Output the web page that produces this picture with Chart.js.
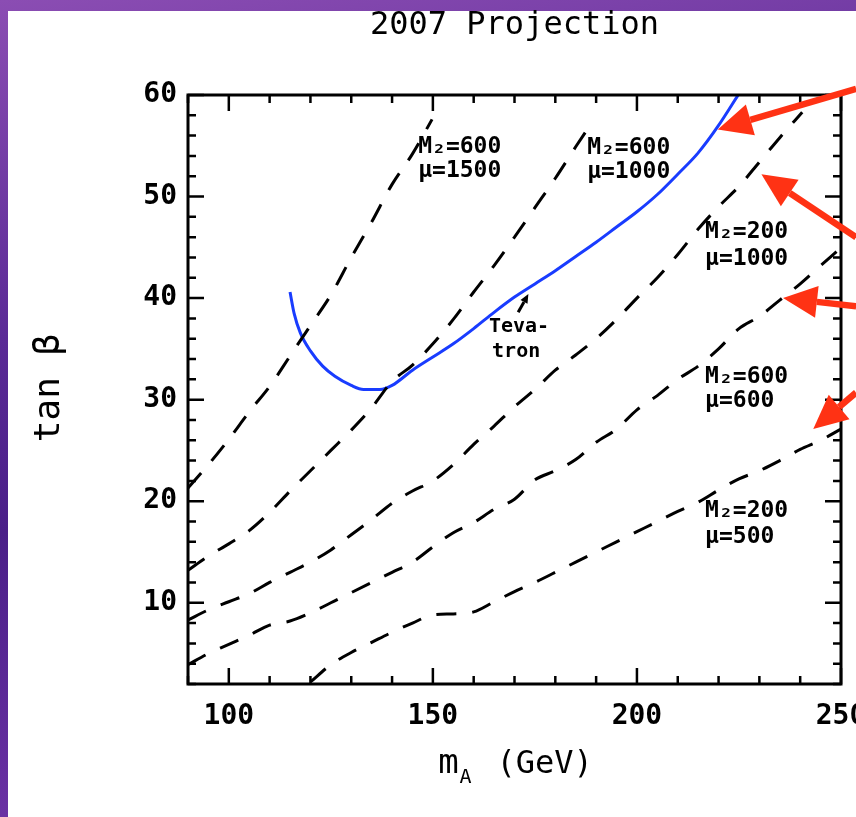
<!DOCTYPE html>
<html>
<head>
<meta charset="utf-8">
<script src="https://cdn.jsdelivr.net/npm/chart.js@4.4.0/dist/chart.umd.min.js"></script>
<style>
  html, body { margin: 0; padding: 0; width: 856px; height: 817px; overflow: hidden; }
  body { position: relative; background: linear-gradient(170deg, #8b4db3 0%, #5a2a96 35%, #4a1f88 55%, #7b3ab2 100%); }
  #panel { position: absolute; left: 8px; top: 11px; right: 0; bottom: 0; background: #fff; }
  #myChart { position: absolute; left: 0; top: 0; }
</style>
</head>
<body>
<div id="panel"></div>
<canvas id="myChart" width="856" height="817"></canvas>
<script>
'use strict'

// axis ranges and tick labels
const xMin = 90, xMax = 250;
const yMin = 2, yMax = 60;
const xTicks = [100, 150, 200, 250];
const yTicks = [10, 20, 30, 40, 50, 60];

// dashed contours
const m600mu1500X = [90, 95, 100, 105, 110, 115, 120, 125, 130, 135, 140, 145, 149.8];
const m600mu1500Y = [21.3, 23.6, 26.1, 28.8, 31.3, 34.3, 37.3, 40.3, 44.0, 47.5, 51.2, 54.2, 57.6];

const m600mu1000X = [90, 95, 100, 105, 110, 115, 120, 125, 130, 135, 140, 145, 150, 155, 160, 165, 170, 175, 180, 185, 189];
const m600mu1000Y = [13.2, 14.6, 15.8, 17.1, 18.9, 21.0, 23.0, 25.0, 27.0, 29.2, 31.8, 33.4, 35.5, 37.9, 40.6, 43.2, 46.0, 48.9, 51.8, 54.9, 57.3];

const m200mu1000X = [90, 95, 100, 105, 110, 115, 120, 125, 130, 135, 140, 145, 150, 155, 160, 165, 170, 175, 180, 185, 190, 195, 200, 205, 210, 215, 220, 225, 230, 235, 240.5];
const m200mu1000Y = [8.3, 9.3, 10.1, 10.9, 12.0, 13.0, 14.0, 15.2, 16.7, 18.2, 19.8, 21.0, 22.0, 23.6, 25.6, 27.4, 29.3, 31.0, 32.9, 34.4, 36.0, 37.9, 40.0, 42.0, 44.3, 46.8, 49.0, 51.0, 53.4, 55.8, 58.3];

const m600mu600X = [90, 95, 100, 105, 110, 115, 120, 125, 130, 135, 140, 145, 150, 155, 160, 165, 170, 175, 180, 185, 190, 195, 200, 205, 210, 215, 220, 225, 230, 235, 240, 245, 249];
const m600mu600Y = [3.9, 5.0, 5.9, 6.8, 7.8, 8.2, 9.0, 10.0, 11.0, 12.0, 13.0, 14.0, 15.5, 16.9, 17.9, 19.2, 20.2, 22.1, 23.0, 24.1, 25.8, 27.1, 29.0, 30.4, 32.0, 33.3, 35.0, 37.0, 38.2, 39.8, 41.4, 43.2, 44.6];

const m200mu500X = [120, 125, 130, 135, 140, 145, 150, 155, 160, 165, 170, 175, 180, 185, 190, 195, 200, 205, 210, 215, 220, 225, 230, 235, 240, 245, 250];
const m200mu500Y = [2.2, 3.9, 5.1, 6.1, 7.1, 8.0, 8.8, 8.9, 9.1, 10.1, 11.1, 12.0, 13.0, 14.0, 15.0, 16.0, 17.0, 18.0, 19.0, 19.9, 21.1, 22.2, 23.0, 24.0, 25.1, 26.0, 27.1];

// blue Tevatron curve
const tevatronX = [115, 116, 117.5, 120, 123, 126, 130, 133, 137, 140, 145, 150, 155, 160, 165, 170, 175, 180, 185, 190, 195, 200, 205, 210, 215, 220, 224.8];
const tevatronY = [40.6, 38.5, 36.6, 34.8, 33.3, 32.3, 31.4, 31.0, 31.0, 31.4, 32.9, 34.2, 35.5, 37.0, 38.6, 40.1, 41.4, 42.7, 44.1, 45.5, 47.0, 48.5, 50.2, 52.2, 54.3, 57.0, 60.0];

// curve labels: [first line, second line, left x, y of first line, y of second line]
const curveLabels = [
  ['M₂=600', 'μ=1500', 146.4, 54.9, 52.5],
  ['M₂=600', 'μ=1000', 187.8, 54.8, 52.4],
  ['M₂=200', 'μ=1000', 216.7, 46.5, 43.8],
  ['M₂=600', 'μ=600', 216.7, 32.2, 29.9],
  ['M₂=200', 'μ=500', 216.7, 19.0, 16.5]
];

// red arrows: tail x, tail y, tip x, tip y (data units)
const arrowTails = [[253.7, 60.6], [253.7, 46.0], [253.7, 39.2], [253.7, 30.7]];
const arrowTips = [[219.8, 56.6], [230.5, 52.2], [235.8, 40.0], [243.2, 27.1]];

const FONT = "'DejaVu Sans Mono', monospace";

function toPoints(xs, ys) {
  return xs.map((x, i) => ({ x: x, y: ys[i] }));
}

function dashed(xs, ys) {
  return {
    data: toPoints(xs, ys),
    borderColor: '#000',
    borderWidth: 3,
    borderDash: [20, 16],
    pointRadius: 0,
    cubicInterpolationMode: 'monotone',
    fill: false
  };
}

function drawArrow(ctx, x1, y1, x2, y2, color, width, headLen, headHalf) {
  const ang = Math.atan2(y2 - y1, x2 - x1);
  const bx = x2 - headLen * Math.cos(ang);
  const by = y2 - headLen * Math.sin(ang);
  ctx.save();
  ctx.strokeStyle = color;
  ctx.fillStyle = color;
  ctx.lineWidth = width;
  ctx.beginPath();
  ctx.moveTo(x1, y1);
  ctx.lineTo(bx, by);
  ctx.stroke();
  ctx.beginPath();
  ctx.moveTo(x2, y2);
  ctx.lineTo(bx + headHalf * Math.sin(ang), by - headHalf * Math.cos(ang));
  ctx.lineTo(bx - headHalf * Math.sin(ang), by + headHalf * Math.cos(ang));
  ctx.closePath();
  ctx.fill();
  ctx.restore();
}

// frame, inward ticks, labels, titles and arrows
const decorations = {
  id: 'decorations',
  afterDraw(chart) {
    const ctx = chart.ctx;
    const area = chart.chartArea;
    const xs = chart.scales.x;
    const ys = chart.scales.y;

    ctx.save();
    ctx.strokeStyle = '#000';
    ctx.lineWidth = 3;
    ctx.strokeRect(area.left, area.top, area.right - area.left, area.bottom - area.top);

    ctx.lineWidth = 2.5;
    ctx.beginPath();
    for (let v = xMin; v <= xMax; v += 10) {
      const px = xs.getPixelForValue(v);
      const len = (v % 50 === 0) ? 16 : 8;
      ctx.moveTo(px, area.bottom); ctx.lineTo(px, area.bottom - len);
      ctx.moveTo(px, area.top); ctx.lineTo(px, area.top + len);
    }
    for (let v = yMin; v <= yMax; v += 2) {
      const py = ys.getPixelForValue(v);
      const len = (v % 10 === 0) ? 16 : 8;
      ctx.moveTo(area.left, py); ctx.lineTo(area.left + len, py);
      ctx.moveTo(area.right, py); ctx.lineTo(area.right - len, py);
    }
    ctx.stroke();

    // curve labels
    ctx.fillStyle = '#000';
    ctx.font = 'bold 23px ' + FONT;
    ctx.textAlign = 'left';
    ctx.textBaseline = 'middle';
    curveLabels.forEach(l => {
      const px = xs.getPixelForValue(l[2]);
      ctx.fillText(l[0], px, ys.getPixelForValue(l[3]));
      ctx.fillText(l[1], px, ys.getPixelForValue(l[4]));
    });

    // Tevatron label with small pointer
    ctx.font = 'bold 20px ' + FONT;
    ctx.textAlign = 'center';
    ctx.fillText('Teva-', xs.getPixelForValue(171.1), ys.getPixelForValue(37.2));
    ctx.fillText('tron', xs.getPixelForValue(170.4), ys.getPixelForValue(34.7));
    drawArrow(ctx, xs.getPixelForValue(170.9), ys.getPixelForValue(38.6),
      xs.getPixelForValue(173.4), ys.getPixelForValue(40.4), '#000', 3, 9, 4);

    // title
    const cx = (area.left + area.right) / 2;
    ctx.font = '32px ' + FONT;
    ctx.textAlign = 'center';
    ctx.fillText('2007 Projection', cx, 26);

    // x axis title with subscript
    const yb = 773;
    ctx.textBaseline = 'alphabetic';
    ctx.font = '34px ' + FONT;
    ctx.textAlign = 'center';
    ctx.fillText('m', cx - 66, yb);
    ctx.font = '20px ' + FONT;
    ctx.textAlign = 'left';
    ctx.fillText('A', cx - 55, yb + 10);
    ctx.font = '32px ' + FONT;
    ctx.fillText('(GeV)', cx - 18, yb);

    // y axis title
    ctx.save();
    ctx.translate(50, 388);
    ctx.rotate(-Math.PI / 2);
    ctx.textAlign = 'center';
    ctx.textBaseline = 'middle';
    ctx.font = '36px ' + FONT;
    ctx.fillText('tan β', 0, 0);
    ctx.restore();

    // red arrows
    arrowTails.forEach((t, i) => {
      const tip = arrowTips[i];
      drawArrow(ctx, xs.getPixelForValue(t[0]), ys.getPixelForValue(t[1]),
        xs.getPixelForValue(tip[0]), ys.getPixelForValue(tip[1]), 'rgb(255, 50, 20)', 6.5, 34, 16);
    });
    ctx.restore();
  }
};

const config = {
  type: 'line',
  data: {
    datasets: [
      dashed(m600mu1500X, m600mu1500Y),
      dashed(m600mu1000X, m600mu1000Y),
      dashed(m200mu1000X, m200mu1000Y),
      dashed(m600mu600X, m600mu600Y),
      dashed(m200mu500X, m200mu500Y),
      {
        data: toPoints(tevatronX, tevatronY),
        borderColor: 'rgb(25, 60, 255)',
        borderWidth: 3,
        pointRadius: 0,
        cubicInterpolationMode: 'monotone',
        fill: false
      }
    ]
  },
  options: {
    responsive: false,
    animation: false,
    layout: { padding: { left: 0, right: 15, top: 95, bottom: 0 } },
    plugins: { legend: { display: false }, tooltip: { enabled: false }, title: { display: false } },
    scales: {
      x: {
        type: 'linear',
        min: xMin,
        max: xMax,
        grid: { display: false, drawTicks: false },
        border: { display: false },
        ticks: { color: '#000', padding: 16, font: { family: FONT, size: 28, weight: 'bold' } },
        afterBuildTicks: s => { s.ticks = xTicks.map(v => ({ value: v })); },
        afterFit: s => { s.height = 133; s.paddingLeft = 0; s.paddingRight = 0; }
      },
      y: {
        type: 'linear',
        min: yMin,
        max: yMax,
        grid: { display: false, drawTicks: false },
        border: { display: false },
        ticks: { color: '#000', padding: 11, font: { family: FONT, size: 28, weight: 'bold' } },
        afterBuildTicks: s => { s.ticks = yTicks.map(v => ({ value: v })); },
        afterFit: s => { s.width = 188; s.paddingTop = 0; s.paddingBottom = 0; }
      }
    }
  },
  plugins: [decorations]
};

const ctx = document.getElementById('myChart').getContext('2d');
const myChart = new Chart(ctx, config);
</script>
</body>
</html>
